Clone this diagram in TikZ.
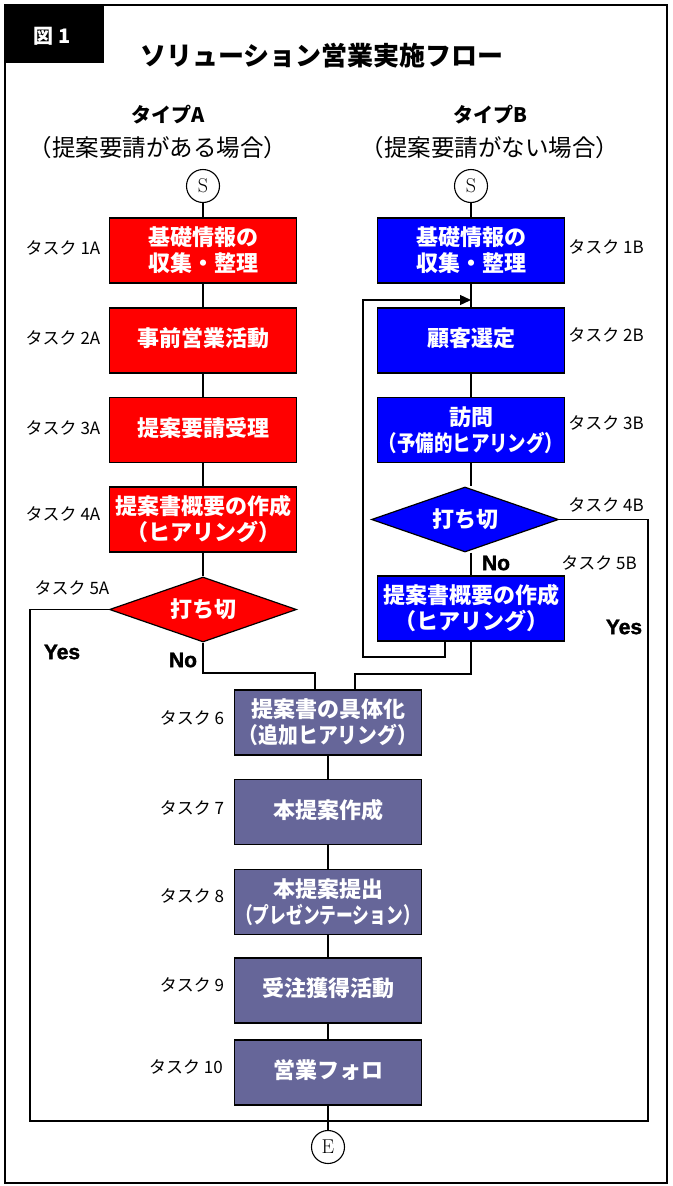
\documentclass[tikz,border=0pt]{standalone}
\usepackage{fontspec}
\usetikzlibrary{shapes.geometric,arrows.meta}
\newfontfamily\jp{Noto Sans CJK JP}
\newfontfamily\lat{Liberation Sans}[BoldFeatures={FakeBold=1.6}]
\definecolor{cred}{HTML}{FF0000}
\definecolor{cblue}{HTML}{0000FF}
\definecolor{cpurp}{HTML}{666699}
\newcommand{\narrow}[2]{\scalebox{#1}[1]{#2}}
\tikzset{
  taskbox/.style={draw=black, line width=1.6pt, minimum width=187pt, minimum height=65pt,
    inner sep=0pt, text=white, align=center, font=\jp\bfseries\fontsize{22}{26}\selectfont},
  redbox/.style={taskbox, fill=cred},
  bluebox/.style={taskbox, fill=cblue},
  purpbox/.style={taskbox, fill=cpurp},
  decision/.style={diamond, aspect=2.9, draw=black, line width=1.2pt, minimum width=187pt,
    minimum height=65pt, inner sep=0pt, text=white, font=\jp\bfseries\fontsize{22}{26}\selectfont},
  termcirc/.style={circle, draw=black, line width=1.1pt, minimum size=33pt, inner sep=0pt,
    font=\fontsize{20}{20}\selectfont},
  tasklbl/.style={font=\jp\fontsize{17}{17}\selectfont, inner sep=0pt},
  yesno/.style={font=\lat\bfseries\fontsize{21}{21}\selectfont, inner sep=0pt},
  conn/.style={draw=black, line width=1.3pt},
}
\begin{document}
\begin{tikzpicture}[x=1pt,y=-1pt]
\useasboundingbox (0,0) rectangle (672,1186);
% frame and tab
\draw[line width=1.5pt] (5,5) rectangle (667,1183);
\fill[black] (5,5) rectangle (104,63);
\node[text=white, font=\jp\bfseries\fontsize{20}{20}\selectfont, inner sep=0pt] (fig) at (52,36) {図 1};
\node[font=\jp\bfseries\fontsize{26}{26}\selectfont, inner sep=0pt] (title) at (322,56) {ソリューション営業実施フロー};
% column headers
\node[font=\jp\bfseries\fontsize{20}{20}\selectfont, inner sep=0pt] (tA) at (168,115) {タイプA};
\node[font=\jp\fontsize{23.5}{23.5}\selectfont, inner sep=0pt] (pA) at (158,148) {（提案要請がある場合）};
\node[font=\jp\bfseries\fontsize{20}{20}\selectfont, inner sep=0pt] (tB) at (490,115) {タイプB};
\node[font=\jp\fontsize{23.5}{23.5}\selectfont, inner sep=0pt] (pB) at (490,148) {（提案要請がない場合）};
% type A column
\node[termcirc] (sA) at (203,186) {S};
\node[redbox] (A1) at (203,250.5) {基礎情報の\\収集・整理};
\node[redbox] (A2) at (203,340.5) {\raisebox{6pt}{事前営業活動}};
\node[redbox] (A3) at (203,430) {\raisebox{6pt}{提案要請受理}};
\node[redbox] (A4) at (203,519.5) {提案書概要の作成\\（ヒアリング）};
\node[decision, fill=cred] (D5A) at (203,609.5) {打ち切};
% type B column
\node[termcirc] (sB) at (471,186) {S};
\node[bluebox] (B1) at (471,250.5) {基礎情報の\\収集・整理};
\node[bluebox] (B2) at (471,340.5) {\raisebox{6pt}{顧客選定}};
\node[bluebox] (B3) at (471,430) {訪問\\\narrow{0.84}{（予備的ヒアリング）}};
\node[decision, fill=cblue] (D4B) at (465,519.5) {打ち切};
\node[bluebox] (B5) at (471,608.5) {提案書概要の作成\\（ヒアリング）};
% common column
\node[purpbox] (C6) at (328,722.5) {提案書の具体化\\\narrow{0.9}{（追加ヒアリング）}};
\node[purpbox] (C7) at (328,812) {\raisebox{6pt}{本提案作成}};
\node[purpbox] (C8) at (328,902) {本提案提出\\\narrow{0.76}{（プレゼンテーション）}};
\node[purpbox] (C9) at (328,990.5) {\raisebox{6pt}{受注獲得活動}};
\node[purpbox] (C10) at (328,1072.5) {\raisebox{6pt}{営業フォロ}};
\node[termcirc] (E) at (328,1147) {E};
% task labels
\node[tasklbl] (l1A) at (63,248) {タスク 1A};
\node[tasklbl] (l2A) at (63,338) {タスク 2A};
\node[tasklbl] (l3A) at (63,428) {タスク 3A};
\node[tasklbl] (l4A) at (63,514) {タスク 4A};
\node[tasklbl] (l5A) at (72,588) {タスク 5A};
\node[tasklbl] (l1B) at (606,247) {タスク 1B};
\node[tasklbl] (l2B) at (606,335) {タスク 2B};
\node[tasklbl] (l3B) at (606,423) {タスク 3B};
\node[tasklbl] (l4B) at (606,505) {タスク 4B};
\node[tasklbl] (l5B) at (599,563) {タスク 5B};
\node[tasklbl] (l6) at (192,718) {タスク 6};
\node[tasklbl] (l7) at (192,808) {タスク 7};
\node[tasklbl] (l8) at (192,896) {タスク 8};
\node[tasklbl] (l9) at (192,985) {タスク 9};
\node[tasklbl] (l10) at (186,1067) {タスク 10};
% yes / no
\node[yesno] (yA) at (62,652) {Yes};
\node[yesno] (nA) at (183,660) {No};
\node[yesno] (nB) at (496,563) {No};
\node[yesno] (yB) at (624,627) {Yes};
% connectors column A
\draw[conn] (sA) -- (A1);
\draw[conn] (A1) -- (A2);
\draw[conn] (A2) -- (A3);
\draw[conn] (A3) -- (A4);
\draw[conn] (A4) -- (D5A);
\coordinate (jA) at (315,673);
\draw[conn] (D5A.south) |- (jA) -- (jA |- C6.north);
% connectors column B
\draw[conn] (sB) -- (B1);
\draw[conn] (B1) -- (B2);
\draw[conn] (B2) -- (B3);
\draw[conn] (B3.south) -- (B3.south |- D4B.north);
\draw[conn] (B5.north |- D4B.south) -- (B5.north);
\coordinate (lp) at (363,657);
\coordinate (ah) at (471,300);
\draw[conn, -{Triangle[length=11pt,width=10pt]}] ([xshift=-26pt]B5.south) |- (lp) |- (ah);
\coordinate (jB) at (355,674);
\draw[conn] (B5.south) |- (jB) -- (jB |- C6.north);
% common column
\draw[conn] (C6) -- (C7);
\draw[conn] (C7) -- (C8);
\draw[conn] (C8) -- (C9);
\draw[conn] (C9) -- (C10);
\draw[conn] (C10) -- (E);
% yes paths
\coordinate (bl) at (30,1121);
\coordinate (br) at (648,1121);
\draw[conn] (D5A.west) -| (bl) -- (br) |- (D4B.east);
\end{tikzpicture}
\end{document}
